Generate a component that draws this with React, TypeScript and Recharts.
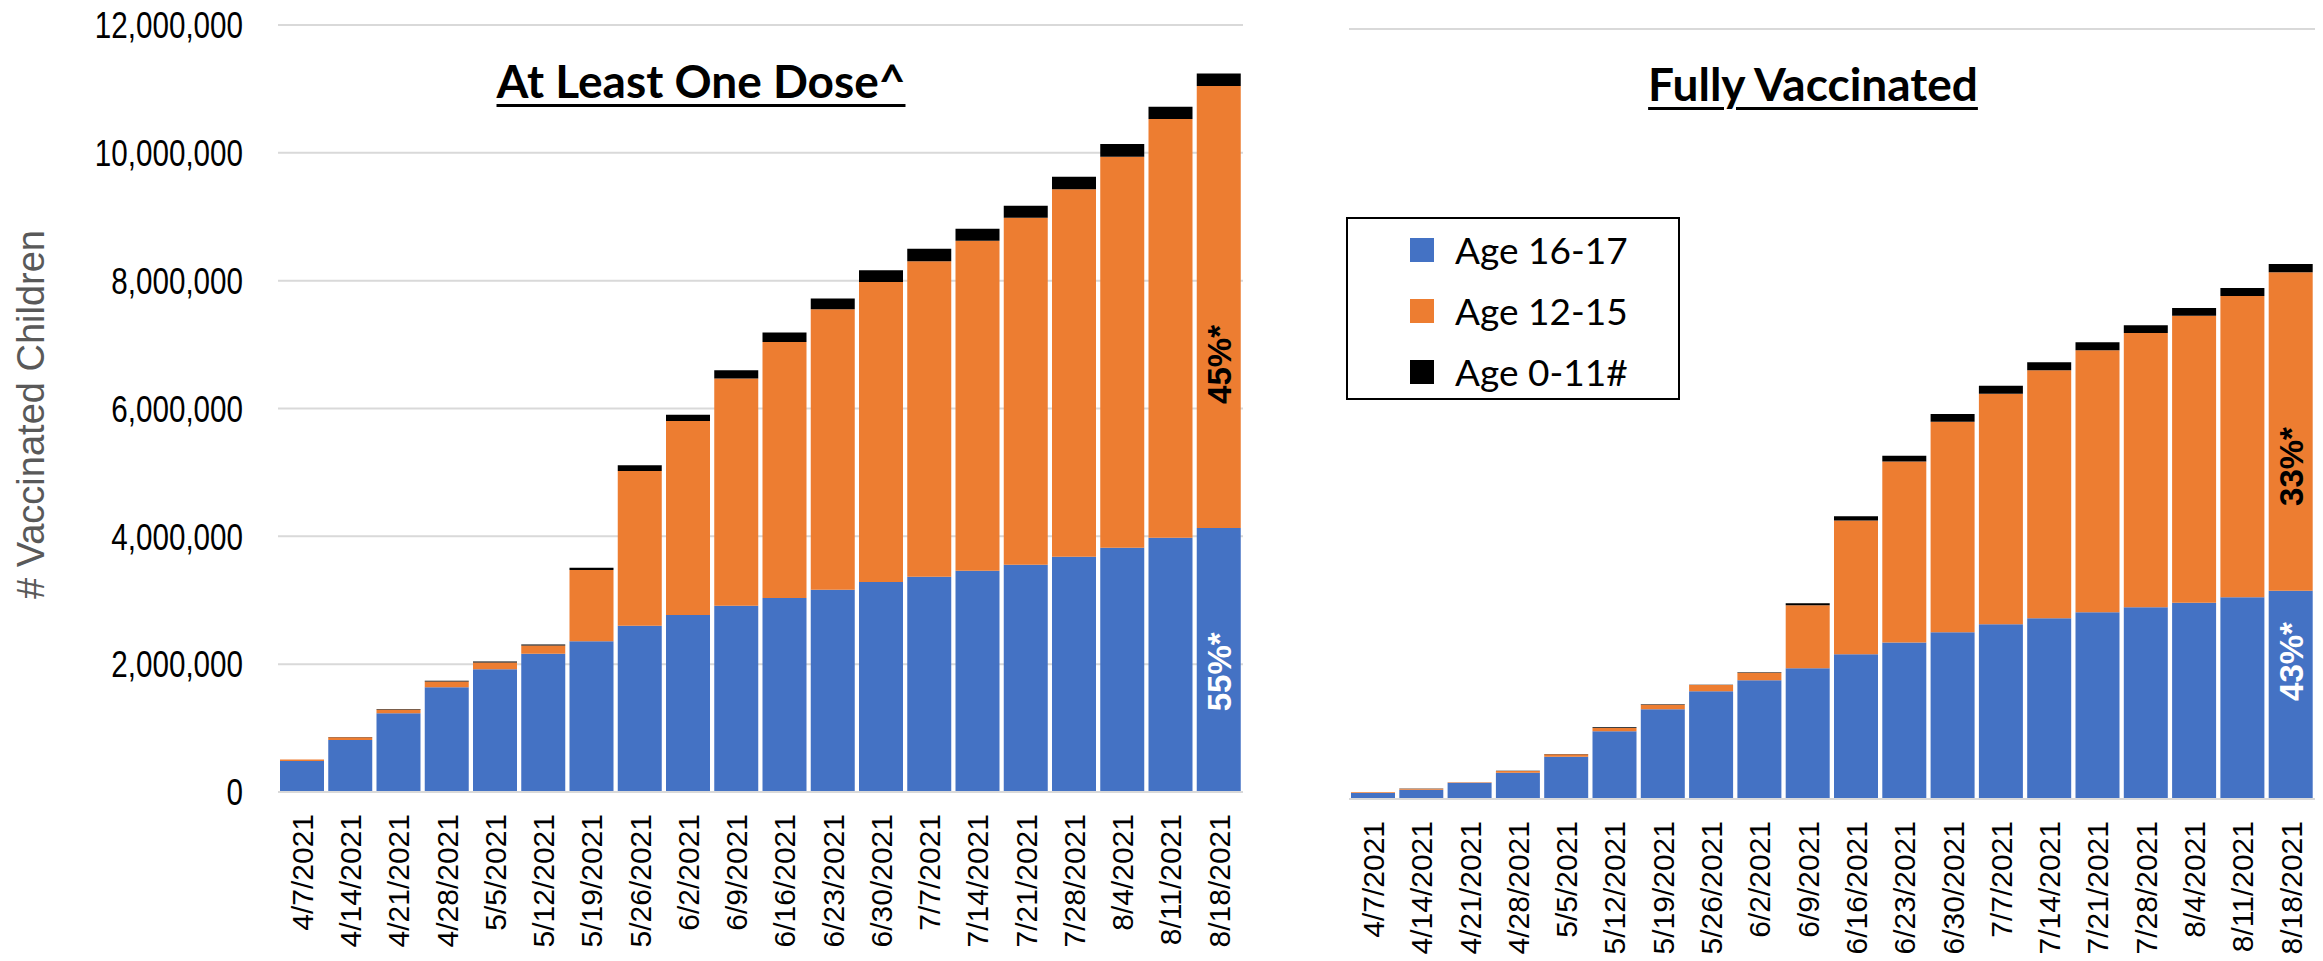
import { Bar, BarChart, CartesianGrid, LabelList, Legend, XAxis, YAxis } from "recharts";

const dates = [
  "4/7/2021", "4/14/2021", "4/21/2021", "4/28/2021", "5/5/2021", "5/12/2021", "5/19/2021",
  "5/26/2021", "6/2/2021", "6/9/2021", "6/16/2021", "6/23/2021", "6/30/2021", "7/7/2021",
  "7/14/2021", "7/21/2021", "7/28/2021", "8/4/2021", "8/11/2021", "8/18/2021",
];

// At least one dose
const oneDose16to17 = [
  486000, 815000, 1232000, 1640000, 1920000, 2162000, 2360000, 2600000, 2768000, 2914000,
  3034000, 3164000, 3285000, 3368000, 3462000, 3556000, 3681000, 3822000, 3979000, 4131000,
];
const oneDose12to15 = [
  21000, 41000, 58000, 88000, 106000, 130000, 1112000, 2423000, 3037000, 3554000,
  4008000, 4389000, 4696000, 4937000, 5161000, 5427000, 5751000, 6116000, 6549000, 6914000,
];
const oneDose0to11 = [
  3000, 6000, 10000, 11000, 14000, 16000, 37000, 89000, 99000, 130000,
  146000, 167000, 183000, 193000, 188000, 188000, 193000, 199000, 193000, 198000,
];

// Fully vaccinated
const full16to17 = [
  94000, 145000, 255000, 410000, 660000, 1055000, 1397000, 1678000, 1849000, 2036000,
  2255000, 2440000, 2597000, 2722000, 2816000, 2909000, 2987000, 3060000, 3143000, 3247000,
];
const full12to15 = [
  10000, 16000, 5000, 26000, 36000, 51000, 73000, 99000, 120000, 982000,
  2085000, 2820000, 3284000, 3595000, 3865000, 4083000, 4275000, 4472000, 4696000, 4961000,
];
const full0to11 = [
  2000, 2000, 2000, 4000, 4000, 11000, 5000, 5000, 5000, 31000,
  65000, 91000, 119000, 125000, 124000, 125000, 120000, 120000, 125000, 130000,
];

const yTicks = [0, 2000000, 4000000, 6000000, 8000000, 10000000, 12000000];
const legendOrder = ["Age 16-17", "Age 12-15", "Age 0-11#"];

const oneDoseData = dates.map((date, i) => ({
  date,
  a16: oneDose16to17[i],
  a12: oneDose12to15[i],
  a0: oneDose0to11[i],
}));
const fullData = dates.map((date, i) => ({
  date,
  a16: full16to17[i],
  a12: full12to15[i],
  a0: full0to11[i],
}));

const BLUE = "#4472C4";
const ORANGE = "#ED7D31";
const BLACK = "#000000";
const GRID = "#D9D9D9";
const SANS = "'Liberation Sans', Arial, sans-serif";
const CAL = "Lato, 'Liberation Sans', sans-serif";
const LAST = dates.length - 1;

function DateTick({ x, y, payload }: any) {
  return (
    <g transform={`translate(${x},${y})`}>
      <text
        transform="rotate(-90)"
        textAnchor="end"
        dy="0.36em"
        style={{ fontSize: 30, fontFamily: SANS }}
        fill="#000">
        {payload.value}
      </text>
    </g>
  );
}

function CountTick({ x, y, payload }: any) {
  return (
    <g transform={`translate(${x},${y})`}>
      <text
        transform="scale(0.8,1)"
        textAnchor="end"
        dy="0.36em"
        style={{ fontSize: 37, fontFamily: SANS }}
        fill="#000">
        {Number(payload.value).toLocaleString("en-US")}
      </text>
    </g>
  );
}

function shareLabel(text: string, color: string, frac: number) {
  return (props: any) => {
    if (props.index !== LAST) return null;
    const vb = props.viewBox ?? props;
    const top = Math.min(vb.y, vb.y + vb.height);
    const h = Math.abs(vb.height);
    const cx = vb.x + vb.width / 2;
    const cy = top + h * frac;
    return (
      <text
        x={cx}
        y={cy}
        transform={`rotate(-90 ${cx} ${cy})`}
        textAnchor="middle"
        dy="0.36em"
        style={{ fontSize: 33, fontWeight: 700, fontFamily: SANS }}
        fill={color}>
        {text}
      </text>
    );
  };
}

function LegendBox({ payload }: any) {
  const items = [...(payload ?? [])].sort(
    (a: any, b: any) => legendOrder.indexOf(a.value) - legendOrder.indexOf(b.value),
  );
  return (
    <div>
      {items.map((p: any) => (
        <div key={p.value} style={{ height: 61, display: "flex", alignItems: "center" }}>
          <span style={{ width: 24, height: 24, background: p.color, marginLeft: 62, marginRight: 21 }} />
          <span style={{ fontFamily: CAL, fontSize: 37, color: "#000" }}>{p.value}</span>
        </div>
      ))}
    </div>
  );
}

const titleStyle = {
  position: "absolute" as const,
  transform: "translateX(-50%)",
  fontFamily: CAL,
  fontWeight: 700,
  fontSize: 46,
  lineHeight: "normal",
  textDecoration: "underline",
  textDecorationThickness: 3,
  textUnderlineOffset: 6,
  color: "#000",
  whiteSpace: "nowrap" as const,
};

export default function App() {
  return (
    <div style={{ position: "relative", width: 2323, height: 961, background: "#fff" }}>
      <style>{"body{margin:0}"}</style>
      <div style={{ position: "absolute", left: 0, top: 0 }}>
        <BarChart
          width={1260}
          height={961}
          data={oneDoseData}
          margin={{ top: 25, right: 17, left: 0, bottom: 0 }}
          barCategoryGap={2}>
          <CartesianGrid vertical={false} stroke={GRID} strokeWidth={2} />
          <XAxis
            dataKey="date"
            interval={0}
            height={169}
            tick={<DateTick />}
            tickLine={false}
            tickSize={0}
            tickMargin={22}
            axisLine={{ stroke: GRID, strokeWidth: 2 }}
          />
          <YAxis
            width={278}
            domain={[0, 12000000]}
            ticks={yTicks}
            tick={<CountTick />}
            tickLine={false}
            tickSize={0}
            tickMargin={35}
            axisLine={false}
            label={{
              content: (props: any) => {
                const vb = props.viewBox;
                const cx = 30;
                const cy = vb.y + vb.height / 2 + 6;
                return (
                  <text
                    x={cx}
                    y={cy}
                    transform={`rotate(-90 ${cx} ${cy})`}
                    textAnchor="middle"
                    dy="0.36em"
                    style={{ fontSize: 38, fontFamily: SANS }}
                    fill="#595959">
                    # Vaccinated Children
                  </text>
                );
              },
            }}
          />
          <Bar dataKey="a16" name="Age 16-17" stackId="s" fill={BLUE} isAnimationActive={false}>
            <LabelList content={shareLabel("55%*", "#fff", 0.545)} />
          </Bar>
          <Bar dataKey="a12" name="Age 12-15" stackId="s" fill={ORANGE} isAnimationActive={false}>
            <LabelList content={shareLabel("45%*", "#000", 0.63)} />
          </Bar>
          <Bar dataKey="a0" name="Age 0-11#" stackId="s" fill={BLACK} isAnimationActive={false} />
        </BarChart>
      </div>

      <div style={{ position: "absolute", left: 1280, top: 0 }}>
        <BarChart
          width={1043}
          height={961}
          data={fullData}
          margin={{ top: 29, right: 8, left: 69, bottom: 0 }}
          barCategoryGap={2}>
          <CartesianGrid vertical={false} stroke={GRID} strokeWidth={2} />
          <XAxis
            dataKey="date"
            interval={0}
            height={162}
            tick={<DateTick />}
            tickLine={false}
            tickSize={0}
            tickMargin={22}
            axisLine={{ stroke: GRID, strokeWidth: 2 }}
          />
          <YAxis width={0} domain={[0, 12000000]} ticks={yTicks} tick={false} tickLine={false} axisLine={false} />
          <Legend
            layout="vertical"
            align="center"
            verticalAlign="middle"
            content={<LegendBox />}
            wrapperStyle={{
              left: 66,
              top: 217,
              width: 334,
              height: 183,
              border: "2px solid #000",
              boxSizing: "border-box",
              background: "#fff",
            }}
          />
          <Bar dataKey="a16" name="Age 16-17" stackId="s" fill={BLUE} isAnimationActive={false}>
            <LabelList content={shareLabel("43%*", "#fff", 0.34)} />
          </Bar>
          <Bar dataKey="a12" name="Age 12-15" stackId="s" fill={ORANGE} isAnimationActive={false}>
            <LabelList content={shareLabel("33%*", "#000", 0.61)} />
          </Bar>
          <Bar dataKey="a0" name="Age 0-11#" stackId="s" fill={BLACK} isAnimationActive={false} />
        </BarChart>
      </div>

      <div style={{ ...titleStyle, left: 701, top: 53 }}>At Least One Dose^</div>
      <div style={{ ...titleStyle, left: 1813, top: 56 }}>Fully Vaccinated</div>
    </div>
  );
}
